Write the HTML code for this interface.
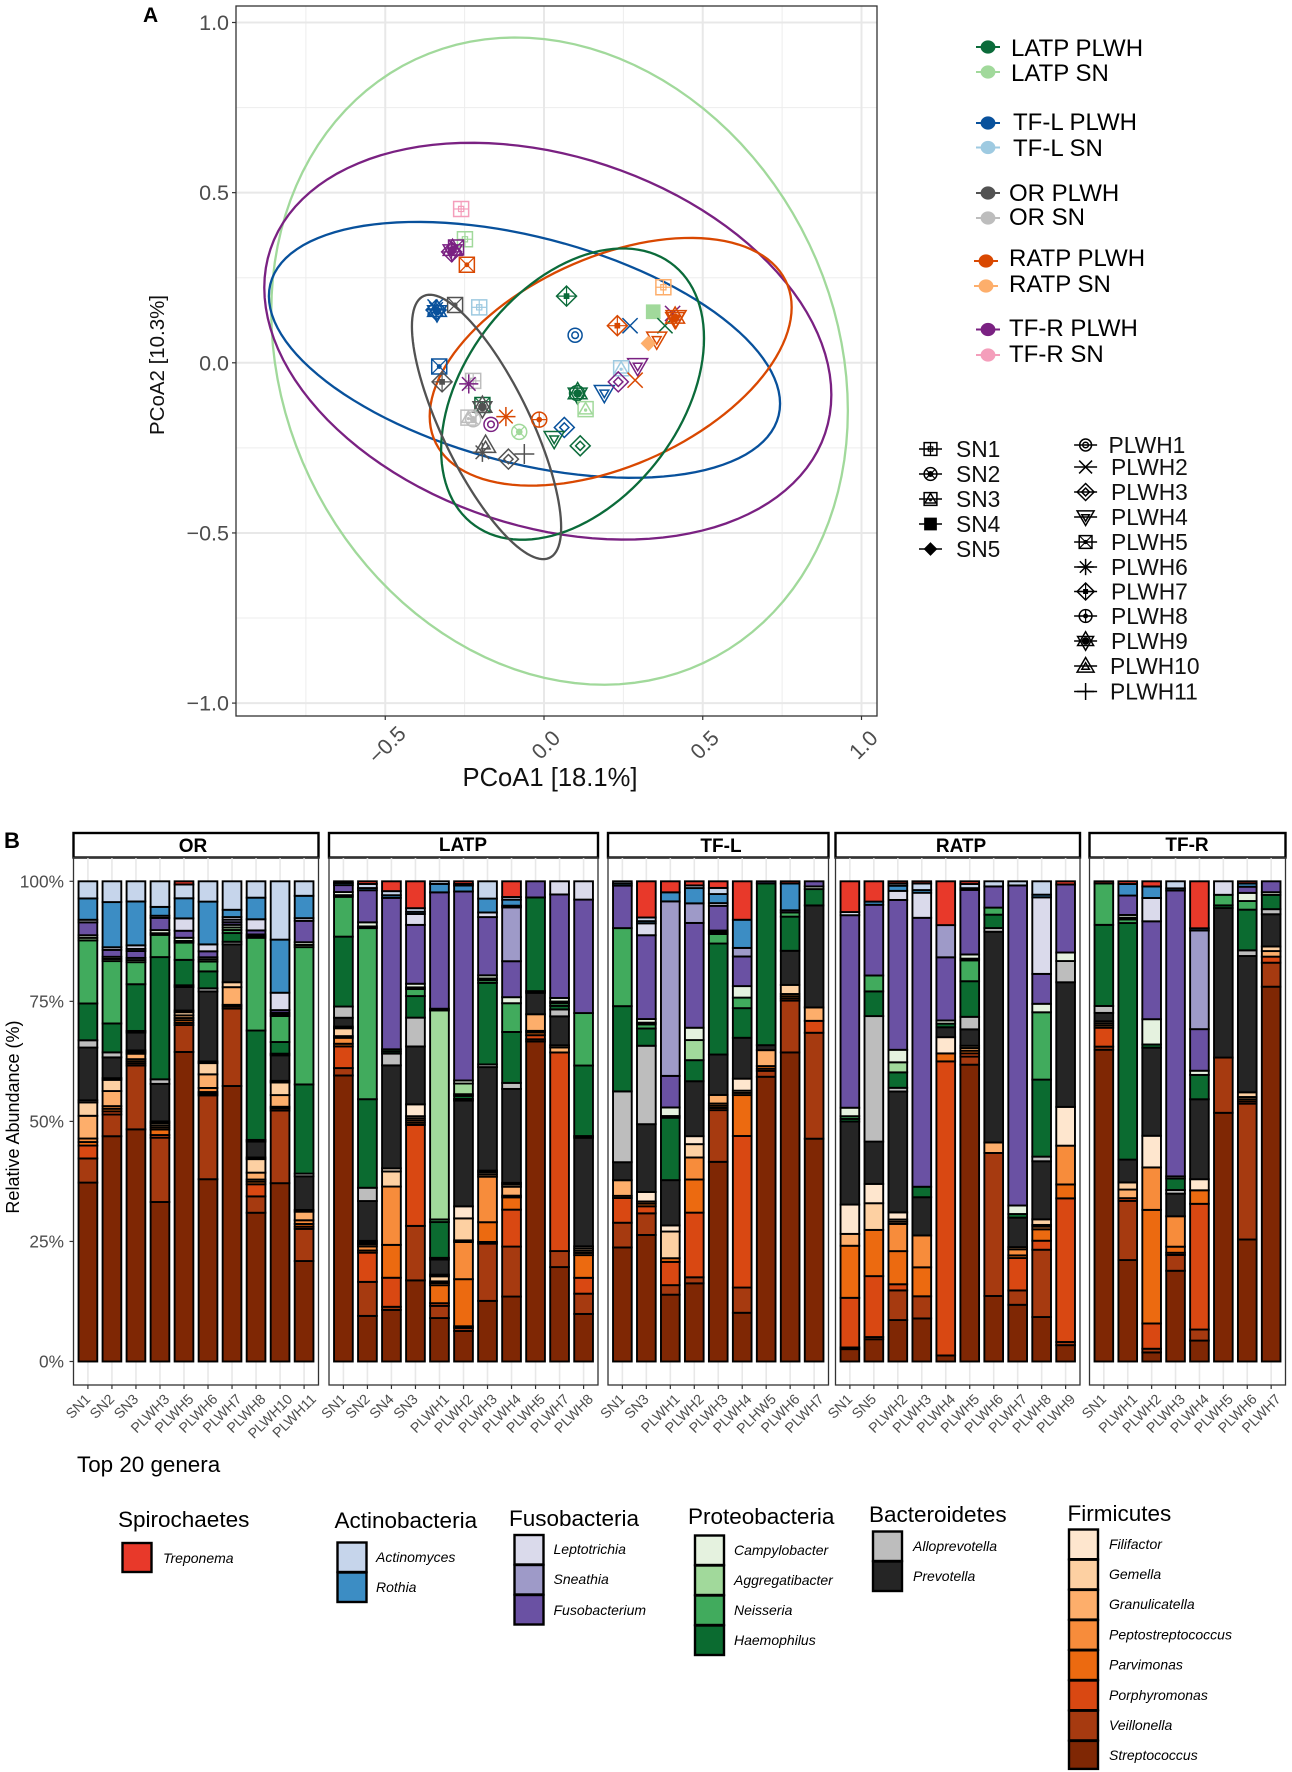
<!DOCTYPE html>
<html lang="en">
<head>
<meta charset="utf-8">
<title>PCoA and relative abundance of top 20 genera</title>
<style>
html,body{margin:0;padding:0;background:#fff;}
svg{display:block;font-family:"Liberation Sans",Arial,sans-serif;}
.ltitle{font-size:22.5px;fill:#000;}
.llab{font-size:14px;font-style:italic;fill:#000;}
.sw{stroke:#000;stroke-width:2.4;}
.gl{font-size:24px;fill:#000;}
.sl{font-size:22.8px;fill:#111;}
.strip{fill:#fff;stroke:#000;stroke-width:2.4;}
.striptxt{font-size:19px;font-weight:bold;text-anchor:middle;fill:#000;}
.keyline{stroke-width:1.4;}
</style>
</head>
<body>
<svg id="figure" width="1292" height="1772" viewBox="0 0 1292 1772" xmlns="http://www.w3.org/2000/svg">
<rect width="1292" height="1772" fill="#fff"/>

<text x="143" y="22" font-size="21" font-weight="bold">A</text>
<text x="4" y="848" font-size="22" font-weight="bold">B</text>

<g id="pcoa"></g>
<text x="550" y="786" font-size="25.6" text-anchor="middle" fill="#111">PCoA1 [18.1%]</text>
<text transform="translate(164,365) rotate(-90)" font-size="20" text-anchor="middle" textLength="140" lengthAdjust="spacingAndGlyphs" fill="#111">PCoA2  [10.3%]</text>

<g>
  <g><line x1="976" x2="1000" y1="47" y2="47" stroke="#0b6b3a" stroke-width="2"/><ellipse cx="988" cy="47" rx="7.4" ry="6.6" fill="#0b6b3a"/><text class="gl" x="1011" y="56">LATP PLWH</text></g>
  <g><line x1="976" x2="1000" y1="72" y2="72" stroke="#a1d99b" stroke-width="2"/><ellipse cx="988" cy="72" rx="7.4" ry="6.6" fill="#a1d99b"/><text class="gl" x="1011" y="81">LATP SN</text></g>
  <g><line x1="976" x2="1000" y1="123" y2="123" stroke="#08519c" stroke-width="2"/><ellipse cx="988" cy="123" rx="7.4" ry="6.6" fill="#08519c"/><text class="gl" x="1013" y="130">TF-L PLWH</text></g>
  <g><line x1="976" x2="1000" y1="147.5" y2="147.5" stroke="#9ecae1" stroke-width="2"/><ellipse cx="988" cy="147.5" rx="7.4" ry="6.6" fill="#9ecae1"/><text class="gl" x="1013" y="156">TF-L SN</text></g>
  <g><line x1="976" x2="1000" y1="193" y2="193" stroke="#525252" stroke-width="2"/><ellipse cx="988" cy="193" rx="7.4" ry="6.6" fill="#525252"/><text class="gl" x="1009" y="201">OR PLWH</text></g>
  <g><line x1="976" x2="1000" y1="218" y2="218" stroke="#bdbdbd" stroke-width="2"/><ellipse cx="988" cy="218" rx="7.4" ry="6.6" fill="#bdbdbd"/><text class="gl" x="1009" y="225">OR SN</text></g>
  <g><line x1="974" x2="998" y1="261" y2="261" stroke="#d94801" stroke-width="2"/><ellipse cx="986" cy="261" rx="7.4" ry="6.6" fill="#d94801"/><text class="gl" x="1009" y="266">RATP PLWH</text></g>
  <g><line x1="974" x2="998" y1="286" y2="286" stroke="#fdae6b" stroke-width="2"/><ellipse cx="986" cy="286" rx="7.4" ry="6.6" fill="#fdae6b"/><text class="gl" x="1009" y="292">RATP SN</text></g>
  <g><line x1="976" x2="1000" y1="329.5" y2="329.5" stroke="#7a2182" stroke-width="2"/><ellipse cx="988" cy="329.5" rx="7.4" ry="6.6" fill="#7a2182"/><text class="gl" x="1009" y="336">TF-R PLWH</text></g>
  <g><line x1="976" x2="1000" y1="355" y2="355" stroke="#f49ebb" stroke-width="2"/><ellipse cx="988" cy="355" rx="7.4" ry="6.6" fill="#f49ebb"/><text class="gl" x="1009" y="362">TF-R SN</text></g>
</g>

<g>
  <g data-shape="SN1" data-x="930.5" data-y="449"></g><text class="sl" x="956" y="457">SN1</text>
  <g data-shape="SN2" data-x="930.5" data-y="474"></g><text class="sl" x="956" y="482">SN2</text>
  <g data-shape="SN3" data-x="930.5" data-y="499"></g><text class="sl" x="956" y="507">SN3</text>
  <g data-shape="SN4" data-x="930.5" data-y="524"></g><text class="sl" x="956" y="532">SN4</text>
  <g data-shape="SN5" data-x="930.5" data-y="549"></g><text class="sl" x="956" y="557">SN5</text>
  <g data-shape="PLWH1" data-x="1085.6" data-y="445"></g><text class="sl" x="1108.5" y="453">PLWH1</text>
  <g data-shape="PLWH2" data-x="1085.6" data-y="467"></g><text class="sl" x="1111" y="475">PLWH2</text>
  <g data-shape="PLWH3" data-x="1085.6" data-y="492"></g><text class="sl" x="1111" y="500">PLWH3</text>
  <g data-shape="PLWH4" data-x="1085.6" data-y="517"></g><text class="sl" x="1111" y="525">PLWH4</text>
  <g data-shape="PLWH5" data-x="1085.6" data-y="542"></g><text class="sl" x="1111" y="550">PLWH5</text>
  <g data-shape="PLWH6" data-x="1085.6" data-y="567"></g><text class="sl" x="1111" y="575">PLWH6</text>
  <g data-shape="PLWH7" data-x="1085.6" data-y="591.5"></g><text class="sl" x="1111" y="599.5">PLWH7</text>
  <g data-shape="PLWH8" data-x="1085.6" data-y="616"></g><text class="sl" x="1111" y="624">PLWH8</text>
  <g data-shape="PLWH9" data-x="1085.6" data-y="641"></g><text class="sl" x="1111" y="649">PLWH9</text>
  <g data-shape="PLWH10" data-x="1085.6" data-y="666"></g><text class="sl" x="1110" y="674">PLWH10</text>
  <g data-shape="PLWH11" data-x="1085.6" data-y="691.5"></g><text class="sl" x="1110" y="699.5">PLWH11</text>
</g>

<g>
  <rect class="strip" x="73.5" y="833" width="245" height="24.5"/><text class="striptxt" x="193" y="852">OR</text>
  <rect class="strip" x="329" y="833" width="269" height="24.5"/><text class="striptxt" x="463" y="851">LATP</text>
  <rect class="strip" x="608" y="833" width="220.5" height="24.5"/><text class="striptxt" x="721" y="852">TF-L</text>
  <rect class="strip" x="835.5" y="833" width="244.5" height="24.5"/><text class="striptxt" x="961" y="852">RATP</text>
  <rect class="strip" x="1089.5" y="833" width="196" height="24.5"/><text class="striptxt" x="1187" y="851">TF-R</text>
</g>
<g id="bars"></g>
<text transform="translate(19,1117) rotate(-90)" font-size="18" text-anchor="middle" fill="#000">Relative Abundance (%)</text>

<text x="77" y="1472" font-size="22.4" fill="#000">Top 20 genera</text>

<g>
  <text class="ltitle" x="118" y="1527">Spirochaetes</text>
  <rect class="sw" x="122.5" y="1543" width="29" height="29" fill="#e8392a"/><text class="llab" x="163" y="1563">Treponema</text>
</g>
<g>
  <text class="ltitle" x="334.5" y="1528">Actinobacteria</text>
  <rect class="sw" x="337.5" y="1542.5" width="29" height="29.5" fill="#c6d5eb"/><text class="llab" x="376" y="1562">Actinomyces</text>
  <rect class="sw" x="337.5" y="1572.5" width="29" height="29.5" fill="#3c8dc4"/><text class="llab" x="376" y="1592">Rothia</text>
</g>
<g>
  <text class="ltitle" x="509" y="1526">Fusobacteria</text>
  <rect class="sw" x="514.5" y="1535" width="29" height="29.5" fill="#dadaeb"/><text class="llab" x="553.5" y="1554">Leptotrichia</text>
  <rect class="sw" x="514.5" y="1565" width="29" height="29.5" fill="#9e9ac8"/><text class="llab" x="553.5" y="1584">Sneathia</text>
  <rect class="sw" x="514.5" y="1595" width="29" height="29.5" fill="#6a51a3"/><text class="llab" x="553.5" y="1615">Fusobacterium</text>
</g>
<g>
  <text class="ltitle" x="688" y="1524">Proteobacteria</text>
  <rect class="sw" x="695" y="1535.5" width="29" height="29.5" fill="#e5f2df"/><text class="llab" x="734" y="1555">Campylobacter</text>
  <rect class="sw" x="695" y="1565.5" width="29" height="29.5" fill="#a1d99b"/><text class="llab" x="734" y="1585">Aggregatibacter</text>
  <rect class="sw" x="695" y="1595.5" width="29" height="29.5" fill="#41ab5d"/><text class="llab" x="734" y="1615">Neisseria</text>
  <rect class="sw" x="695" y="1625.5" width="29" height="29.5" fill="#0b6b30"/><text class="llab" x="734" y="1645">Haemophilus</text>
</g>
<g>
  <text class="ltitle" x="869" y="1522">Bacteroidetes</text>
  <rect class="sw" x="873" y="1531.5" width="29" height="29.5" fill="#bdbdbd"/><text class="llab" x="913" y="1551">Alloprevotella</text>
  <rect class="sw" x="873" y="1561.5" width="29" height="29.5" fill="#252525"/><text class="llab" x="913" y="1581">Prevotella</text>
</g>
<g>
  <text class="ltitle" x="1067.5" y="1521">Firmicutes</text>
  <rect class="sw" x="1069" y="1529.5" width="29" height="29.7" fill="#fee6ce"/><text class="llab" x="1109" y="1549">Filifactor</text>
  <rect class="sw" x="1069" y="1559.7" width="29" height="29.7" fill="#fdd0a2"/><text class="llab" x="1109" y="1579">Gemella</text>
  <rect class="sw" x="1069" y="1589.9" width="29" height="29.7" fill="#fdae6b"/><text class="llab" x="1109" y="1609">Granulicatella</text>
  <rect class="sw" x="1069" y="1620.1" width="29" height="29.7" fill="#f78c3b"/><text class="llab" x="1109" y="1639.5">Peptostreptococcus</text>
  <rect class="sw" x="1069" y="1650.3" width="29" height="29.7" fill="#ec6a10"/><text class="llab" x="1109" y="1669.5">Parvimonas</text>
  <rect class="sw" x="1069" y="1680.5" width="29" height="29.7" fill="#d94812"/><text class="llab" x="1109" y="1700">Porphyromonas</text>
  <rect class="sw" x="1069" y="1710.7" width="29" height="29.7" fill="#a63a10"/><text class="llab" x="1109" y="1730">Veillonella</text>
  <rect class="sw" x="1069" y="1740.9" width="29" height="28" fill="#7f2704"/><text class="llab" x="1109" y="1760">Streptococcus</text>
</g>
</svg>

<script>
/* ---------- PCoA data ---------- */
const xTickValues = [-0.5, 0, 0.5, 1];
const yTickValues = [-1, -0.5, 0, 0.5, 1];
const xMinorValues = [-0.75, -0.25, 0.25, 0.75];
const yMinorValues = [-0.75, -0.25, 0.25, 0.75];
const xTickLabels = ["\u22120.5", "0.0", "0.5", "1.0"];
const yTickLabels = ["\u22121.0", "\u22120.5", "0.0", "0.5", "1.0"];

const ellipseGroups = ["LATP SN", "TF-R PLWH", "TF-L PLWH", "RATP PLWH", "LATP PLWH", "OR PLWH"];
const ellipseCx = [0.049, 0.012, -0.0615, 0.21, 0.09, -0.181];
const ellipseCy = [0.005, 0.0635, 0.038, 0.003, -0.092, -0.1885];
const ellipseRx = [0.908, 0.893, 0.805, 0.57, 0.414, 0.235];
const ellipseRy = [0.951, 0.583, 0.376, 0.364, 0.428, 0.3885];
const ellipseRho = [-0.153, -0.27, -0.42, 0.44, 0.383, -0.76];

const pointGroup = ["TF-R SN","LATP SN","TF-R PLWH","TF-R PLWH","TF-R PLWH","RATP PLWH","OR PLWH","TF-L SN","TF-L PLWH","TF-L PLWH","TF-L PLWH","TF-L PLWH","LATP PLWH","TF-L PLWH","TF-L PLWH","OR PLWH","OR SN","TF-R PLWH","LATP PLWH","OR PLWH","OR SN","OR SN","TF-R PLWH","RATP PLWH","RATP PLWH","LATP SN","TF-L PLWH","LATP PLWH","LATP PLWH","OR PLWH","OR PLWH","OR PLWH","OR PLWH","LATP PLWH","LATP PLWH","LATP SN","TF-L PLWH","RATP SN","LATP SN","TF-R PLWH","LATP PLWH","RATP PLWH","RATP PLWH","RATP PLWH","TF-L PLWH","RATP PLWH","RATP SN","TF-R PLWH","TF-L SN","RATP PLWH","TF-R PLWH"];
const pointSample = ["SN1","SN1","PLWH7","PLWH5","PLWH9","PLWH5","PLWH5","SN1","PLWH7","PLWH2","PLWH6","PLWH9","PLWH7","PLWH1","PLWH5","PLWH7","SN1","PLWH6","PLWH5","PLWH9","SN3","SN2","PLWH1","PLWH6","PLWH8","SN2","PLWH3","PLWH4","PLWH3","PLWH10","PLWH6","PLWH11","PLWH3","PLWH8","PLWH9","SN3","PLWH4","SN1","SN4","PLWH2","PLWH2","PLWH9","PLWH4","PLWH7","PLWH2","PLWH4","SN5","PLWH4","SN3","PLWH2","PLWH3"];
const pointX = [-0.261,-0.249,-0.291,-0.277,-0.288,-0.243,-0.280,-0.204,-0.340,-0.343,-0.340,-0.337,0.071,0.098,-0.330,-0.321,-0.223,-0.237,-0.194,-0.194,-0.238,-0.223,-0.167,-0.120,-0.015,-0.078,0.064,0.032,0.114,-0.184,-0.194,-0.062,-0.112,0.104,0.106,0.131,0.190,0.376,0.344,0.405,0.381,0.413,0.416,0.231,0.271,0.355,0.329,0.295,0.243,0.287,0.234];
const pointY = [0.452,0.363,0.326,0.339,0.331,0.288,0.170,0.163,0.155,0.164,0.158,0.152,0.196,0.081,-0.011,-0.056,-0.053,-0.062,-0.124,-0.130,-0.161,-0.166,-0.181,-0.158,-0.167,-0.203,-0.190,-0.223,-0.244,-0.242,-0.263,-0.268,-0.283,-0.089,-0.090,-0.136,-0.088,0.222,0.150,0.145,0.109,0.132,0.132,0.109,0.109,0.069,0.057,-0.009,-0.016,-0.051,-0.056];

/* ---------- Stacked bar data ---------- */
const genera = ["Streptococcus","Veillonella","Porphyromonas","Parvimonas","Peptostreptococcus","Granulicatella","Gemella","Filifactor","Prevotella","Alloprevotella","Haemophilus","Neisseria","Aggregatibacter","Campylobacter","Fusobacterium","Sneathia","Leptotrichia","Rothia","Actinomyces","Treponema"];
const percentTicks = [0, 25, 50, 75, 100];
const percentLabels = ["0%", "25%", "50%", "75%", "100%"];

const orSamples = ["SN1","SN2","SN3","PLWH3","PLWH5","PLWH6","PLWH7","PLWH8","PLWH10","PLWH11"];
const orValues = [
[37.9,4.9,2.5,.5,.5,4.6,2.6,.2,11,1.3,7.6,13.2,.3,.3,2.5,0,.3,4.3,3.4,0],
[46.9,4.3,.4,.3,.3,2.9,2.1,.1,4.1,.8,5.8,12.8,.2,.2,1.2,0,.3,9.2,4.1,0],
[48.7,13.2,.2,.2,.2,.9,.1,.1,3.5,.1,9.6,4.4,.2,.2,1.2,.2,.5,9,4,0],
[33.1,13.2,.3,.9,.2,.2,.2,.1,7.6,.7,25.3,4.4,.1,.4,2.3,0,.2,1.6,5.1,0],
[63.6,5.3,.2,.3,.2,.3,.4,.1,4.6,.1,5,3.3,.1,.4,1.2,0,2.3,3.9,2.6,.4],
[37.9,17.3,.1,.1,.6,2.6,2.1,.1,14.4,.4,3.3,1.8,.2,.2,1,0,1.2,8.7,4,0],
[58.3,16.2,.2,.1,0,3.5,.8,0,7.8,.3,1.6,.4,.3,.3,.3,.3,.3,1.3,5.8,0],
[31.1,3.2,2.3,.3,.2,1.2,2.6,.1,3.1,.1,22.8,19.3,.1,.1,.6,0,2.1,4.3,3.2,0],
[37.2,15,.2,0,.1,2.2,2.4,.1,5.1,.1,2.2,5.2,.1,.1,.3,0,3.4,10.9,12,0],
[20.2,6.3,.2,.3,.5,1.5,.1,0,6.6,.3,17.9,27.7,.2,.3,4.1,0,.3,4.3,2.7,0]
];
const latpSamples = ["SN1","SN2","SN4","SN3","PLWH1","PLWH2","PLWH3","PLWH4","PLWH5","PLWH7","PLWH8"];
const latpValues = [
[59.7,1.3,4.3,.3,1,.1,1.4,.1,1.6,2.1,14.4,8.1,.1,.4,1.2,0,0,.2,.1,0],
[9.2,6.8,5.8,.2,.6,.2,.1,.1,8,2.5,18.1,35.2,.1,.6,6.4,0,0,.2,.6,.3],
[10.5,.4,5.8,6.6,11.9,0,2.9,.4,21.2,2.2,.2,.2,0,0,31.3,0,0,.3,.6,1.8],
[16.5,11,20.6,.2,.2,.2,.2,2.2,11.7,5.7,4.2,1.2,.1,.5,11.9,0,2,.2,.5,5.3],
[8.8,2.3,.3,3.5,.2,.1,.8,.1,2.9,.1,7.2,.3,43.3,.1,24,0,0,1.5,.3,0],
[6.2,.4,.1,9.7,7.6,.1,4.4,2.3,22.1,.1,.4,.1,2,.4,39.7,0,0,1,.1,.3],
[12.2,11.5,.1,3.8,9.1,.2,.2,.1,21,.3,16.5,.3,.1,.4,11.7,0,.7,2.6,3.3,0],
[13.2,10.1,7.4,2.3,.1,1.6,.2,.1,19.2,1,10.3,5.7,0,1,7.2,10.9,.1,1,.3,3],
[66.2,.2,.6,.3,.1,3.2,0,0,4.2,.1,19.2,0,0,0,3.1,0,0,0,0,0],
[19.5,3.1,41.3,0,0,.8,.2,0,5.8,1.2,.5,.3,.1,.5,21.4,0,2.5,0,0,0],
[9.5,3.9,3,4.4,.2,.2,.2,.2,22,.1,14.2,10.5,0,0,23,0,3.5,0,0,0]
];
const tflSamples = ["SN1","SN3","PLWH1","PLWH2","PLWH3","PLWH4","PLHW5","PLWH6","PLWH7"];
const tflValues = [
[23.5,4.9,4.9,.2,0,3,0,0,3.5,14.5,17.5,16,0,0,8.6,0,0,.2,.2,0],
[25.8,4.2,1.2,.3,.2,0,0,1.7,13.7,15.9,3.3,.6,.1,.5,17,0,2.2,.2,.5,7.2],
[13.4,1.7,4.5,.5,0,0,5.2,1,9,0,12.5,.1,0,1.5,6.2,35.4,0,1.6,0,2],
[15.9,1,13.1,6.6,4.3,0,2.5,1.4,11.1,0,4.1,0,3.9,2.3,21.4,3.8,0,2.9,.3,.6],
[40.5,10.3,.2,.2,.2,1.5,0,0,8,0,22.4,1.7,.1,.1,4.8,0,.3,1.6,1,1.1],
[9.7,4.9,30.7,8.1,.2,0,.2,2.2,8.1,0,5.8,1.9,0,2.1,5.8,1.5,0,5.5,0,7.6],
[59.7,1,.2,.3,0,3.1,0,0,.8,0,33.8,0,0,0,.2,0,0,0,0,0],
[62.7,10.3,.2,.2,.2,0,1.6,0,6.7,0,6.7,.6,0,0,.2,0,0,5.2,0,.2],
[45.5,21.5,2.2,0,0,2.5,0,0,20.7,0,3.1,0,0,.3,.8,0,0,0,0,0]
];
const ratpSamples = ["SN1","SN5","PLWH2","PLWH3","PLWH4","PLWH5","PLWH6","PLWH7","PLWH8","PLWH9"];
const ratpValues = [
[2.3,.1,10,10.5,0,2.2,0,5.8,16.9,0,.3,.3,0,1.5,39.5,0,.4,0,0,6.1],
[4.3,.2,12.2,9.2,0,0,5.2,3.7,8.4,25.4,4.8,3,0,0,14.2,0,0,.4,0,3.9],
[8.2,5.8,1,6.5,5.3,.2,.2,1.2,24.4,.5,2.9,0,1.8,2.3,30.3,0,1.6,.8,.2,.2],
[8.6,4.3,0,5.7,6.3,0,0,0,7.6,0,1.9,0,0,0,55,0,4.9,.3,1.1,.2],
[1,0,60.5,1.4,0,0,0,3.1,1.8,0,.5,0,0,.4,12.8,6.4,0,0,0,8.8],
[60.2,1.4,.4,.3,0,.3,.2,0,3.1,2.3,7,4,.1,.6,12.9,0,0,.1,.6,.3],
[13.2,29.1,0,0,0,1.9,0,0,43,.5,2.5,1.2,0,0,4.1,0,0,0,.8,0],
[11.4,2.7,6.4,.3,1,.2,0,0,5.8,0,.5,0,0,1.5,65.5,0,0,0,.6,0],
[8.9,13.6,1.6,2.1,.3,.1,.9,0,11.7,.7,15.6,13.6,0,1.5,5.9,0,15.5,.3,2.5,0],
[3.1,.4,29.2,2.6,7.7,0,0,7.7,25.3,4.1,0,0,0,1.5,13.7,0,0,0,0,.4]
];
const tfrSamples = ["SN1","PLWH1","PLWH2","PLWH3","PLWH4","PLWH5","PLWH6","PLWH7"];
const tfrValues = [
[64.9,.4,3.7,0,.2,.2,.2,0,1.5,1.2,16.7,8.4,0,0,0,0,0,0,0,.2],
[20.4,11.8,.3,0,0,1.5,1.2,0,4.4,0,47.9,.5,.1,.3,3.7,0,0,2.1,0,.3],
[1.6,.5,4.9,22.9,8.4,0,0,6.2,17.7,0,.4,0,0,4.9,19.7,0,4.5,2.1,0,.8],
[18.4,3,.2,1,6,0,0,0,4.4,.5,2.1,0,0,.2,58.5,0,0,.2,1.2,0],
[4,2,25.3,2.5,0,0,0,2,16,0,4.7,0,0,.6,8.2,19.8,0,.2,0,9.3],
[50.4,11,0,0,0,0,0,0,30.2,0,.3,1.9,0,0,0,0,2.5,0,0,0],
[24.5,27.3,.2,.2,0,.2,.7,0,27.4,.9,8,1.5,0,1.4,1,0,0,.4,0,.2],
[77.1,4.7,1,0,0,.9,.7,0,6.4,.8,2.7,0,0,.3,2,0,0,0,0,0]
];

/* ---------- styles ---------- */
const SVGNS = "http://www.w3.org/2000/svg";
const groupColor = {
  "LATP PLWH":"#0b6b3a","LATP SN":"#a1d99b","TF-L PLWH":"#08519c","TF-L SN":"#9ecae1",
  "OR PLWH":"#525252","OR SN":"#bdbdbd","RATP PLWH":"#d94801","RATP SN":"#fdae6b",
  "TF-R PLWH":"#7a2182","TF-R SN":"#f49ebb"
};
const genusColor = {
  Streptococcus:"#7f2704",Veillonella:"#a63a10",Porphyromonas:"#d94812",Parvimonas:"#ec6a10",
  Peptostreptococcus:"#f78c3b",Granulicatella:"#fdae6b",Gemella:"#fdd0a2",Filifactor:"#fee6ce",
  Prevotella:"#252525",Alloprevotella:"#bdbdbd",Haemophilus:"#0b6b30",Neisseria:"#41ab5d",
  Aggregatibacter:"#a1d99b",Campylobacter:"#e5f2df",Fusobacterium:"#6a51a3",Sneathia:"#9e9ac8",
  Leptotrichia:"#dadaeb",Rothia:"#3c8dc4",Actinomyces:"#c6d5eb",Treponema:"#e8392a"
};

function mk(tag, attrs, parent) {
  const e = document.createElementNS(SVGNS, tag);
  for (const k in attrs) e.setAttribute(k, attrs[k]);
  parent.appendChild(e);
  return e;
}

/* ---------- PCoA scales ---------- */
const PL = 236, PR = 877, PT = 6, PB = 716;
function sx(v) { return 544 + 317.5 * v; }
function sy(v) { return 362.8 - 340.3 * v; }

function poly(points, g, color, sw, fill) {
  mk("polygon", {points: points.map(p => p[0].toFixed(2) + "," + p[1].toFixed(2)).join(" "), fill: fill || "none", stroke: color, "stroke-width": sw}, g);
}
function seg(g, x1, y1, x2, y2, color, sw) {
  mk("line", {x1: x1, y1: y1, x2: x2, y2: y2, stroke: color, "stroke-width": sw}, g);
}
function plus(g, x, y, r, c, sw) { seg(g, x - r, y, x + r, y, c, sw); seg(g, x, y - r, x, y + r, c, sw); }
function cross(g, x, y, r, c, sw) { seg(g, x - r, y - r, x + r, y + r, c, sw); seg(g, x - r, y + r, x + r, y - r, c, sw); }
function square(g, x, y, r, c, sw, f) { poly([[x-r,y-r],[x+r,y-r],[x+r,y+r],[x-r,y+r]], g, c, sw, f); }
function diamond(g, x, y, r, c, sw, f) { poly([[x,y-r],[x+r,y],[x,y+r],[x-r,y]], g, c, sw, f); }
function triUp(g, x, y, r, c, sw) { poly([[x,y-r],[x+r,y+r*0.72],[x-r,y+r*0.72]], g, c, sw); }
function triDown(g, x, y, r, c, sw) { poly([[x,y+r],[x+r,y-r*0.72],[x-r,y-r*0.72]], g, c, sw); }
function circ(g, x, y, r, c, sw, f) { mk("circle", {cx: x, cy: y, r: r, fill: f || "none", stroke: c, "stroke-width": sw}, g); }

function drawShape(g, s, x, y, c, k) {
  const w = 1.5;
  if (s === "SN1") { square(g,x,y,7.5*k,c,w); plus(g,x,y,7.5*k,c,w*0.8); square(g,x,y,2.6*k,c,w*0.8); }
  else if (s === "SN2") { circ(g,x,y,7.5*k,c,w); cross(g,x,y,5.4*k,c,w*0.8); circ(g,x,y,2.6*k,c,w,c); }
  else if (s === "SN3") { square(g,x,y,7.5*k,c,w); triUp(g,x,y,6.6*k,c,w); circ(g,x,y+1,1.2*k,c,w*0.6,c); }
  else if (s === "SN4") { square(g,x,y,6.6*k,c,w,c); }
  else if (s === "SN5") { diamond(g,x,y,6.8*k,c,w,c); }
  else if (s === "PLWH1") { circ(g,x,y,7*k,c,w); circ(g,x,y,3.3*k,c,w); }
  else if (s === "PLWH2") { cross(g,x,y,7.6*k,c,w); }
  else if (s === "PLWH3") { diamond(g,x,y,10*k,c,w); diamond(g,x,y,4.6*k,c,w); }
  else if (s === "PLWH4") { triDown(g,x,y,10*k,c,w); triDown(g,x,y+0.5,4.4*k,c,w); }
  else if (s === "PLWH5") { square(g,x,y,7.5*k,c,w); cross(g,x,y,7.5*k,c,w*0.8); circ(g,x,y,2*k,c,w*0.6,c); }
  else if (s === "PLWH6") { plus(g,x,y,9.6*k,c,w); cross(g,x,y,6.8*k,c,w); }
  else if (s === "PLWH7") { diamond(g,x,y,10*k,c,w); plus(g,x,y,10*k,c,w*0.8); square(g,x,y,2.4*k,c,w*0.6,c); }
  else if (s === "PLWH8") { circ(g,x,y,7.5*k,c,w); plus(g,x,y,7.5*k,c,w*0.8); circ(g,x,y,2.4*k,c,w*0.6,c); }
  else if (s === "PLWH9") { triUp(g,x,y-1.5*k,9.4*k,c,w); triDown(g,x,y+1.5*k,9.4*k,c,w); circ(g,x,y,3.6*k,c,w,c); }
  else if (s === "PLWH10") { triUp(g,x,y,10*k,c,w); triUp(g,x,y+0.5,4.4*k,c,w); }
  else if (s === "PLWH11") { plus(g,x,y,10*k,c,w); }
}

const pcoa = document.getElementById("pcoa");

xMinorValues.forEach(function (v) {
  const l = mk("line", {x1: sx(v), x2: sx(v), y1: PT, y2: PB, stroke: "#ededed", "stroke-width": 1}, pcoa);
  
  
});
yMinorValues.forEach(function (v) {
  const l = mk("line", {x1: PL, x2: PR, y1: sy(v), y2: sy(v), stroke: "#ededed", "stroke-width": 1}, pcoa);
  
  
});
xTickValues.forEach(function (v, i) {
  const l = mk("line", {x1: sx(v), x2: sx(v), y1: PT, y2: PB, stroke: "#e8e8e8", "stroke-width": 2}, pcoa);
  
  
  const tick = mk("line", {x1: sx(v), x2: sx(v), y1: PB, y2: PB + 4, stroke: "#333", "stroke-width": 1.2}, pcoa);
  
  
  const t = mk("text", {transform: "translate(" + (sx(v) + 7) + ",750) rotate(-45)", "font-size": 21.5, "text-anchor": "middle", fill: "#4d4d4d"}, pcoa);
  t.textContent = xTickLabels[i];
  
  
});
yTickValues.forEach(function (v, i) {
  const l = mk("line", {x1: PL, x2: PR, y1: sy(v), y2: sy(v), stroke: "#e8e8e8", "stroke-width": 2}, pcoa);
  
  
  const tick = mk("line", {x1: PL - 4, x2: PL, y1: sy(v), y2: sy(v), stroke: "#333", "stroke-width": 1.2}, pcoa);
  
  
  const t = mk("text", {x: 229, y: sy(v) + 7.5, "font-size": 21.5, "text-anchor": "end", fill: "#4d4d4d"}, pcoa);
  t.textContent = yTickLabels[i];
  
  
});

ellipseGroups.forEach(function (name, i) {
  const pts = [];
  const q = Math.sqrt(1 - ellipseRho[i] * ellipseRho[i]);
  for (let d = 0; d < 360; d += 3) {
    const a = d * Math.PI / 180;
    const dx = ellipseCx[i] + ellipseRx[i] * Math.cos(a);
    const dy = ellipseCy[i] + ellipseRy[i] * (ellipseRho[i] * Math.cos(a) + q * Math.sin(a));
    pts.push(sx(dx).toFixed(2) + "," + sy(dy).toFixed(2));
  }
  const e = mk("polygon", {points: pts.join(" "), fill: "none", stroke: groupColor[name], "stroke-width": 2.3}, pcoa);
  
  
});

pointX.forEach(function (v, i) {
  const g = mk("g", {}, pcoa);
  
  
  drawShape(g, pointSample[i], sx(v), sy(pointY[i]), groupColor[pointGroup[i]], 1);
});

const frame = mk("rect", {x: PL, y: PT, width: PR - PL, height: PB - PT, fill: "none", stroke: "#333", "stroke-width": 1.3}, pcoa);



document.querySelectorAll("[data-shape]").forEach(function (g) {
  const x = parseFloat(g.getAttribute("data-x"));
  const y = parseFloat(g.getAttribute("data-y"));
  seg(g, x - 11.5, y, x + 11.5, y, "#000", 1.4);
  drawShape(g, g.getAttribute("data-shape"), x, y, "#000", 0.85);
});

/* ---------- stacked bars ---------- */
const facets = [
  {key: "or", left: 73.5, right: 318.5, samples: orSamples, values: orValues},
  {key: "latp", left: 329, right: 598, samples: latpSamples, values: latpValues},
  {key: "tfl", left: 608, right: 828.5, samples: tflSamples, values: tflValues},
  {key: "ratp", left: 835.5, right: 1080, samples: ratpSamples, values: ratpValues},
  {key: "tfr", left: 1089.5, right: 1285.5, samples: tfrSamples, values: tfrValues}
];
const barsRoot = document.getElementById("bars");
const BT = 857.5, BB = 1385;
function pctY(p) { return 1361.5 - 4.802 * p; }

percentTicks.forEach(function (p, i) {
  const tick = mk("line", {x1: 69.5, x2: 73.5, y1: pctY(p), y2: pctY(p), stroke: "#333", "stroke-width": 1.2}, barsRoot);
  
  
  const t = mk("text", {x: 64, y: pctY(p) + 6, "font-size": 17.3, "text-anchor": "end", fill: "#4d4d4d"}, barsRoot);
  t.textContent = percentLabels[i];
  
  
});

facets.forEach(function (f) {
  const unit = (f.right - f.left) / (f.samples.length + 0.2);
  function bx(i) { return f.left + (i + 0.6) * unit; }
  const barW = unit * 0.78;

  f.samples.forEach(function (name, i) {
    const gl = mk("line", {x1: bx(i), x2: bx(i), y1: BT, y2: BB, stroke: "#e8e8e8", "stroke-width": 1.6}, barsRoot);
    
    
  });

  f.samples.forEach(function (name, i) {
    const row = f.values[i];
    const pad = row.map(function (v) { return v > 0 ? v + 0.25 : 0; });
    const total = pad.reduce(function (a, b) { return a + b; }, 0);
    const g = mk("g", {}, barsRoot);
    
    
    let cum = 0;
    pad.forEach(function (v, j) {
      if (v <= 0) return;
      const share = v / total * 100;
      const top = pctY(cum + share);
      const r = mk("rect", {x: bx(i) - barW / 2, y: top, width: barW, height: pctY(cum) - top, fill: genusColor[genera[j]], stroke: "#000", "stroke-width": 1.9}, g);
      
      
      cum += share;
    });

    const tick = mk("line", {x1: bx(i), x2: bx(i), y1: BB, y2: BB + 4, stroke: "#333", "stroke-width": 1.2}, barsRoot);
    
    
    const t = mk("text", {"font-size": 14.2, "text-anchor": "middle", fill: "#4d4d4d"}, barsRoot);
    t.textContent = name;
    
    
    const len = t.getComputedTextLength();
    t.setAttribute("transform", "translate(" + (bx(i) - 6.5) + "," + (1394 + len * 0.354 + 6) + ") rotate(-45)");
  });

  const border = mk("rect", {x: f.left, y: BT, width: f.right - f.left, height: BB - BT, fill: "none", stroke: "#333", "stroke-width": 1.3}, barsRoot);
  
  
});
</script>
</body>
</html>
